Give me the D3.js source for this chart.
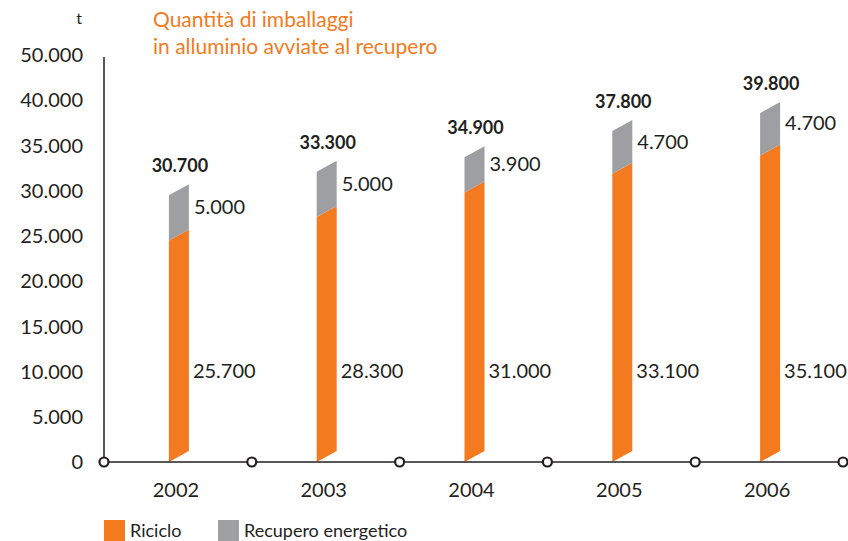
<!DOCTYPE html>
<html lang="it">
<head>
<meta charset="UTF-8">
<title>Imballaggi in alluminio avviati al recupero</title>
<script src="https://cdn.jsdelivr.net/npm/d3@7"></script>
<style>
	body { margin: 0; background: #fff; }
	text { font-family: "Lato", "Liberation Sans", sans-serif; fill: #231f20; }
</style>
</head>
<body>
<div id="chart"></div>
<script>
// dati
var anni      = ["2002", "2003", "2004", "2005", "2006"];
var riciclo   = [25700, 28300, 31000, 33100, 35100];
var recupero  = [5000, 5000, 3900, 4700, 4700];
var totali    = [30700, 33300, 34900, 37800, 39800];
// le etichette dell'asse come stampate (manca 45.000)
var tickValori    = [0, 5000, 10000, 15000, 20000, 25000, 30000, 35000, 40000, 45000];
var tickEtichette = ["0", "5.000", "10.000", "15.000", "20.000", "25.000", "30.000", "35.000", "40.000", "50.000"];

var arancio = "#f47a20", grigio = "#9d9fa2";
var fmt = function(v){ return d3.format(",")(v).replace(/,/g, "."); };

var W = 848, H = 541;
var svg = d3.select("#chart").append("svg").attr("width", W).attr("height", H);

var x = d3.scaleBand().domain(anni).range([104, 843]).paddingInner(0).paddingOuter(0);
var y = d3.scaleLinear().domain([0, 45000]).range([462, 55]);

var barW = 20, slant = 11;

// asse y: linea e etichette
svg.append("line")
	.attr("x1", 104).attr("x2", 104).attr("y1", 57).attr("y2", 462)
	.attr("stroke", "#231f20").attr("stroke-width", 1.5);

svg.selectAll("text.ytick").data(tickValori).enter().append("text")
	.attr("class", "ytick")
	.attr("x", 83).attr("y", function(d){ return y(d); })
	.attr("dy", "0.36em").attr("text-anchor", "end")
	.style("font-size", "20px")
	.text(function(d, i){ return tickEtichette[i]; });

svg.append("text").attr("x", 79).attr("y", 24).attr("text-anchor", "middle")
	.style("font-size", "16px").text("t");

// titolo
var tit = svg.append("text").attr("x", 153).attr("y", 27)
	.style("font-size", "21px").style("fill", arancio);
tit.append("tspan").attr("x", 153).text("Quantità di imballaggi");
tit.append("tspan").attr("x", 153).attr("dy", 27).text("in alluminio avviate al recupero");

// barre inclinate (parallelogrammi)
function parall(xc, v0, v1, fondo){
	var x0 = xc - barW / 2, x1 = xc + barW / 2;
	var yb = fondo ? y(v0) : y(v0) + slant;
	var ybR = fondo ? y(v0) - slant : y(v0);
	return "M" + x0 + "," + yb + "L" + x1 + "," + ybR +
		"L" + x1 + "," + y(v1) + "L" + x0 + "," + (y(v1) + slant) + "Z";
}

var g = svg.selectAll("g.barra").data(anni).enter().append("g").attr("class", "barra");
var cx = function(d){ return x(d) + x.bandwidth() / 2 + 1; };

g.append("path")
	.attr("d", function(d, i){ return parall(cx(d), 0, riciclo[i], true); })
	.attr("fill", arancio);

g.append("path")
	.attr("d", function(d, i){ return parall(cx(d), riciclo[i], riciclo[i] + recupero[i], false); })
	.attr("fill", grigio);

// etichette valori
g.append("text")
	.attr("x", function(d){ return cx(d) + barW / 2 + 4; })
	.attr("y", y(10000)).attr("dy", "0.34em")
	.style("font-size", "20px")
	.text(function(d, i){ return fmt(riciclo[i]); });

g.append("text")
	.attr("x", function(d){ return cx(d) + barW / 2 + 5; })
	.attr("y", function(d, i){ return (y(riciclo[i]) + y(riciclo[i] + recupero[i])) / 2; })
	.attr("dy", "0.36em")
	.style("font-size", "20px")
	.text(function(d, i){ return fmt(recupero[i]); });

g.append("text")
	.attr("x", function(d){ return cx(d) + 1; })
	.attr("y", function(d, i){ return y(totali[i]) - 12; })
	.attr("text-anchor", "middle")
	.style("font-size", "18px").style("font-weight", "bold")
	.text(function(d, i){ return fmt(totali[i]); });

// asse x con cerchietti
svg.append("line")
	.attr("x1", 104).attr("x2", W).attr("y1", 462).attr("y2", 462)
	.attr("stroke", "#231f20").attr("stroke-width", 1.5);

var bordi = anni.map(function(d){ return x(d); }).concat([x.range()[1]]);
svg.selectAll("circle.nodo").data(bordi).enter().append("circle")
	.attr("class", "nodo")
	.attr("cx", function(d){ return d; }).attr("cy", 462).attr("r", 4.5)
	.attr("fill", "#fff").attr("stroke", "#231f20").attr("stroke-width", 2.2);

svg.selectAll("text.anno").data(anni).enter().append("text")
	.attr("class", "anno")
	.attr("x", function(d){ return x(d) + x.bandwidth() / 2 - 2; })
	.attr("y", 497).attr("text-anchor", "middle")
	.style("font-size", "20px")
	.text(function(d){ return d; });

// legenda
var leg = [{ nome: "Riciclo", col: arancio, x: 104 }, { nome: "Recupero energetico", col: grigio, x: 218 }];
var lg = svg.selectAll("g.leg").data(leg).enter().append("g").attr("class", "leg");
lg.append("rect").attr("x", function(d){ return d.x; }).attr("y", 520)
	.attr("width", 21).attr("height", 21).attr("fill", function(d){ return d.col; });
lg.append("text").attr("x", function(d){ return d.x + 26; }).attr("y", 537)
	.style("font-size", "18px").text(function(d){ return d.nome; });
</script>
</body>
</html>
